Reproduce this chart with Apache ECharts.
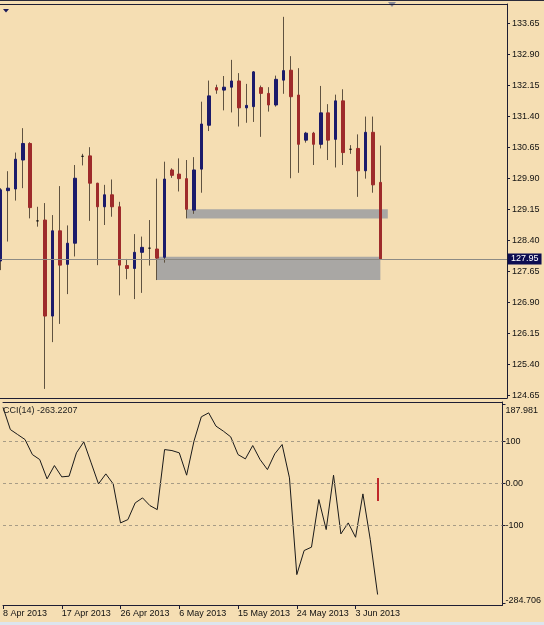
<!DOCTYPE html>
<html>
<head>
<meta charset="utf-8">
<title>Daily chart with CCI(14)</title>
<script src="https://cdn.jsdelivr.net/npm/echarts@6/dist/echarts.min.js"></script>
<style>
  html, body { margin: 0; padding: 0; background: #f5deb3; }
  #chart { width: 544px; height: 625px; }
</style>
</head>
<body>
<div id="chart"></div>
<script>
// daily bars, left to right
var opens = [127.90, 129.60, 129.64, 130.34, 130.74, 128.87, 128.89, 126.57, 128.63, 127.82,
  128.33, 130.43, 130.44, 129.78, 129.21, 129.50, 129.21, 127.79, 127.72, 128.11,
  128.21, 128.19, 127.99, 130.10, 130.00, 129.89, 129.13, 130.12, 131.18, 132.09,
  132.03, 132.10, 132.25, 131.60, 131.63, 132.09, 131.95, 131.67, 132.27, 132.51,
  131.91, 130.82, 130.99, 130.72, 131.48, 130.84, 131.77, 130.60, 130.62, 130.08,
  131.01, 129.80];
var closes = [129.62, 129.66, 130.36, 130.74, 129.19, 128.87, 126.57, 128.63, 127.80, 128.33,
  129.90, 130.43, 129.78, 129.21, 129.50, 129.21, 127.80, 127.72, 128.11, 128.23,
  128.21, 127.97, 129.88, 129.97, 129.89, 129.15, 130.10, 131.21, 131.89, 132.03,
  132.10, 132.25, 131.60, 131.66, 132.47, 131.95, 131.67, 132.29, 132.50, 131.87,
  130.72, 130.99, 130.72, 131.48, 130.82, 131.77, 130.52, 130.60, 130.08, 131.01,
  129.74, 127.95];
var lows = [127.68, 128.37, 129.36, 129.66, 128.93, 128.73, 124.81, 125.94, 126.38, 127.10,
  128.01, 130.21, 128.87, 127.80, 128.77, 128.97, 127.07, 127.46, 126.98, 127.13,
  127.79, 127.44, 127.86, 129.91, 129.58, 128.93, 129.04, 129.55, 131.04, 131.94,
  131.54, 131.49, 131.15, 131.24, 131.26, 130.90, 131.51, 131.63, 131.94, 129.90,
  130.03, 130.76, 130.22, 130.62, 130.34, 130.16, 130.22, 130.49, 129.45, 129.89,
  129.55, 127.93];
var highs = [129.66, 130.07, 130.52, 131.11, 130.77, 129.21, 129.30, 129.01, 129.71, 128.76,
  130.22, 130.49, 130.65, 129.79, 129.74, 129.87, 129.33, 127.95, 128.55, 128.49,
  128.89, 129.89, 130.30, 130.14, 130.38, 130.34, 130.41, 131.75, 132.26, 132.16,
  132.37, 132.76, 132.44, 132.18, 132.49, 132.14, 132.10, 132.38, 133.80, 132.85,
  132.56, 131.02, 131.02, 132.13, 131.69, 131.92, 132.05, 130.70, 130.96, 131.39,
  131.39, 130.69];
var cci = [180, 127.5, 115.6, 103.8, 68.2, 56.4, 10.7, 42.2, 15.4, 17,
  72.3, 98.3, 48.6, -1.2, 22.5, -1.2, -93.6, -85.8, -46.2, -34.4,
  -52.6, -62.1, 80.1, 77.7, 72.3, 19.4, 100, 157.6, 167, 135.5,
  123.7, 110.2, 68.2, 58, 89.6, 56.4, 32.7, 69.9, 92, 13,
  -216, -159, -151, -38.3, -109.4, 19.4, -119.7, -93.6, -127.6, -24.9,
  -133, -263.22];
var cciMark = [13, -42]; // red stroke on the last bar of the CCI window
var cciLevels = [100, 0, -100];

var priceTicks = [133.65, 132.90, 132.15, 131.40, 130.65, 129.90, 129.15, 128.40, 127.65, 126.90, 126.15, 125.40, 124.65];
var cciTicks = [187.981, 100, 0, -100, -284.706];
var cciTickLabels = ['187.981', '100', '0.00', '-100', '-284.706'];
var dateTicks = ['8 Apr 2013', '17 Apr 2013', '26 Apr 2013', '6 May 2013', '15 May 2013', '24 May 2013', '3 Jun 2013'];
var dateTickIdx = [0, 8, 16, 24, 32, 40, 48];

// grey zones: [from bar, to bar, low price, high price]
var zones = [[25, 52, 128.93, 129.15], [21, 51, 127.44, 128.00]];
var lastPrice = 127.95;
var cciName = 'CCI(14) -263.2207';
var barSlots = 69; // bars plus the empty shift on the right

var cats = [];
for (var i = 0; i < barSlots; i++) cats.push(String(i));

var wickData = opens.map(function (o, i) { return [o, closes[i], lows[i], highs[i]]; });
var bodyData = opens.map(function (o, i) {
  return [o, closes[i], Math.min(o, closes[i]), Math.max(o, closes[i])];
});

var font = '"Liberation Sans", Arial, sans-serif';
var frame = '#1d1d33';
var bull = '#1b1b6b';
var bear = '#9e2b2b';
var wick = '#5f5240';

// plain category axis used only as a frame line
function frameAxis(gridIndex, position) {
  return {
    type: 'category', gridIndex: gridIndex, position: position, data: cats, boundaryGap: false,
    axisLine: { show: true, onZero: false, lineStyle: { color: frame } },
    axisTick: { show: false }, axisLabel: { show: false }, splitLine: { show: false }
  };
}

var chart = echarts.init(document.getElementById('chart'));
chart.setOption({
  backgroundColor: '#f5deb3',
  animation: false,
  textStyle: { fontFamily: font },
  title: {
    text: cciName, left: 3, top: 406, padding: 0,
    textStyle: { fontSize: 9, fontWeight: 'normal', color: '#222', fontFamily: font }
  },
  grid: [
    { left: 0.4, width: 506.6, top: 4, height: 394 },
    { left: 0.4, width: 506.6, top: 402, height: 203 }
  ],
  xAxis: [
    frameAxis(0, 'bottom'),
    frameAxis(0, 'top'),
    {
      type: 'category', gridIndex: 1, position: 'bottom', data: cats, boundaryGap: false,
      axisLine: { show: true, onZero: false, lineStyle: { color: frame } },
      axisTick: {
        show: true, length: 4, lineStyle: { color: frame },
        interval: function (i) { return dateTickIdx.indexOf(i) >= 0; }
      },
      axisLabel: {
        interval: function (i) { return dateTickIdx.indexOf(i) >= 0; },
        formatter: function (v, i) {
          var k = dateTickIdx.indexOf(i);
          return k >= 0 ? dateTicks[k] : '';
        },
        align: 'left', fontSize: 9, color: '#111', margin: 4, fontFamily: font
      },
      splitLine: { show: false }
    },
    frameAxis(1, 'top')
  ],
  yAxis: [
    {
      type: 'value', gridIndex: 0, position: 'right', min: 124.59, max: 134.11,
      axisLine: { show: true, onZero: false, lineStyle: { color: frame } },
      axisTick: { show: true, length: 3, customValues: priceTicks, lineStyle: { color: frame } },
      axisLabel: {
        customValues: priceTicks, fontSize: 9, color: '#111', margin: 5, fontFamily: font,
        formatter: function (v) { return v.toFixed(2); }
      },
      splitLine: { show: false }
    },
    {
      type: 'value', gridIndex: 1, position: 'right', min: -288, max: 192.7,
      axisLine: { show: true, onZero: false, lineStyle: { color: frame } },
      axisTick: { show: true, length: 3, customValues: cciTicks, lineStyle: { color: frame } },
      axisLabel: {
        customValues: cciTicks, fontSize: 9, color: '#111', margin: 3, fontFamily: font,
        formatter: function (v) {
          for (var k = 0; k < cciTicks.length; k++) {
            if (Math.abs(cciTicks[k] - v) < 0.01) {
              if (k === 0) return '{top|' + cciTickLabels[k] + '}';
              if (k === cciTicks.length - 1) return '{bot|' + cciTickLabels[k] + '}';
              return cciTickLabels[k];
            }
          }
          return '';
        },
        rich: {
          top: { fontSize: 9, color: '#111', padding: [14, 0, 0, 0], fontFamily: font },
          bot: { fontSize: 9, color: '#111', padding: [0, 0, 7, 0], fontFamily: font }
        }
      },
      splitLine: { show: false }
    }
  ],
  series: [
    {
      name: 'wicks', type: 'candlestick', xAxisIndex: 0, yAxisIndex: 0, z: 2,
      data: wickData, barWidth: 1,
      itemStyle: {
        color: wick, color0: wick, borderColor: wick, borderColor0: wick,
        borderColorDoji: wick, borderWidth: 1
      },
      markArea: {
        silent: true,
        itemStyle: { color: '#a9a7a4', opacity: 1 },
        label: { show: false },
        data: zones.map(function (z) {
          return [{ xAxis: String(z[0]), yAxis: z[2] }, { xAxis: String(z[1]), yAxis: z[3] }];
        })
      },
      markLine: {
        silent: true, symbol: ['none', 'none'], animation: false,
        lineStyle: { color: '#8c8a84', width: 1, type: 'solid' },
        label: {
          show: true, position: 'end', distance: 1,
          formatter: lastPrice.toFixed(2),
          backgroundColor: '#0d0d52', color: '#fff', padding: [1, 3, 1, 3],
          fontSize: 9, fontFamily: font
        },
        data: [{ yAxis: lastPrice }]
      }
    },
    {
      name: 'bodies', type: 'candlestick', xAxisIndex: 0, yAxisIndex: 0, z: 3,
      data: bodyData, barWidth: 3,
      itemStyle: {
        color: bull, color0: bear, borderColor: bull, borderColor0: bear,
        borderColorDoji: '#161616', borderWidth: 1
      }
    },
    {
      name: 'CCI', type: 'line', xAxisIndex: 2, yAxisIndex: 1,
      data: cci, symbol: 'none',
      lineStyle: { color: '#1a1a1a', width: 1 },
      markLine: {
        silent: true, symbol: ['none', 'none'], animation: false,
        label: { show: false },
        data: cciLevels.map(function (lv) {
          return { yAxis: lv, lineStyle: { color: '#a79c86', width: 1, type: [3, 3] } };
        }).concat([[
          { coord: ['51', cciMark[0]], lineStyle: { color: '#c0282a', width: 2, type: 'solid' } },
          { coord: ['51', cciMark[1]] }
        ]])
      }
    }
  ],
  graphic: [
    { type: 'line', shape: { x1: 0, y1: 0.5, x2: 544, y2: 0.5 }, style: { stroke: '#2a2a3a', lineWidth: 1 } },
    { type: 'polygon', shape: { points: [[3, 9], [9, 9], [6, 12.5]] }, style: { fill: '#1a1a5a' } },
    { type: 'polygon', shape: { points: [[388, 2], [396, 2], [392, 7]] }, style: { fill: '#8b8b98' } },
    { type: 'rect', shape: { x: 0, y: 622, width: 544, height: 3 }, style: { fill: '#dde5ee' } }
  ]
});
</script>
</body>
</html>
